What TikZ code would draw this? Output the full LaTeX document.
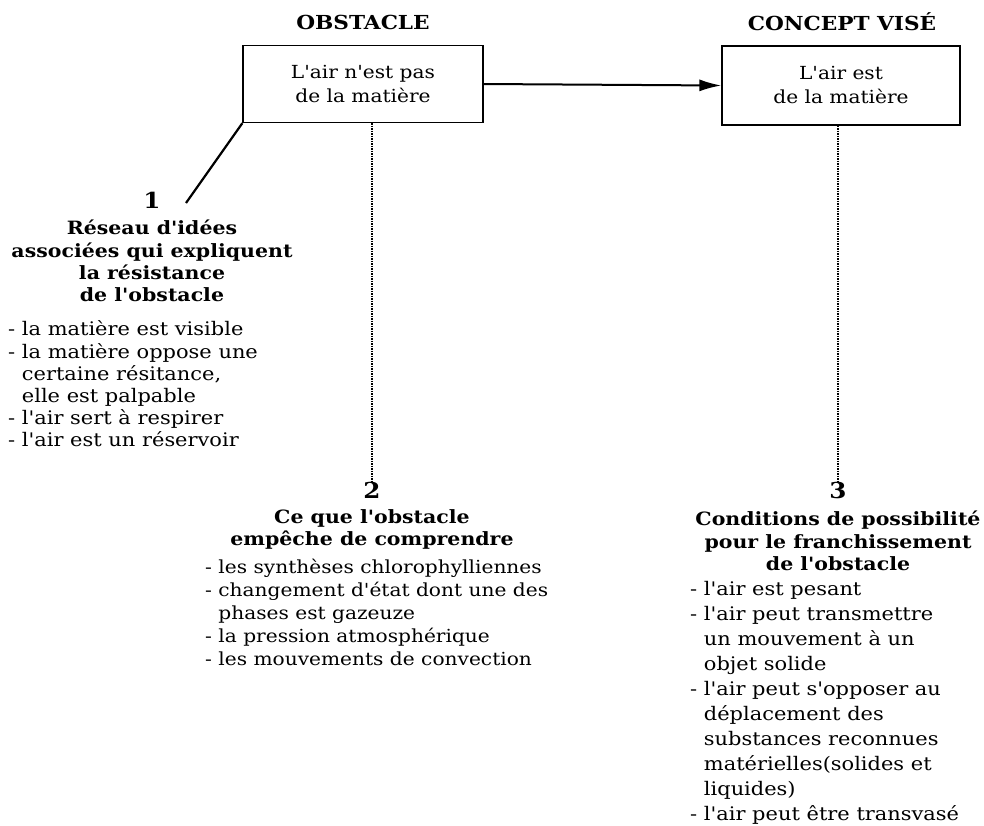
\documentclass[tikz,border=0pt]{standalone}
\usepackage{fontspec}
\setmainfont[FakeStretch=1.12, Ligatures=TeXOff]{DejaVu Serif}
\usetikzlibrary{arrows.meta}
\begin{document}
\begin{tikzpicture}[x=1pt,y=-1pt,
  box/.style={draw, line width=1.3pt, minimum width=240pt, minimum height=77pt, align=center,
    font=\fontsize{18}{24}\selectfont, inner sep=0pt},
  head/.style={font=\bfseries\fontsize{19.3}{22}\selectfont, inner sep=0pt},
  num/.style={font=\bfseries\fontsize{22}{22}\selectfont, inner sep=0pt},
  ttl/.style={font=\bfseries\fontsize{18.3}{22.3}\selectfont, align=center, inner sep=0pt},
  lst/.style={font=\fontsize{18.7}{22.2}\selectfont, align=left, inner sep=0pt, anchor=west},
  arr/.style={line width=2pt, -{Latex[length=22pt,width=12pt]}},
  solid link/.style={line width=2.2pt},
  dotlink/.style={line width=1.5pt, densely dotted}
]
\useasboundingbox (0,0) rectangle (984,825);

\node[head] (h1) at (363,22) {OBSTACLE};
\node[head] (h2) at (842,22) {CONCEPT VISÉ};
\node[box] (b1) at (363,84) {L'air n'est pas\\de la matière};
\node[box, minimum width=238pt, minimum height=79pt] (b2) at (841,85.5) {L'air est\\de la matière};
\draw[arr] (b1.east) -- (b2.west);

% section 1
\node[num] (n1) at (152,200) {1};
\coordinate (c1) at (186,203);
\draw[solid link] (b1.south west) -- (c1);
\node[ttl] (t1) at (152,261) {Réseau d'idées\\associées qui expliquent\\la résistance\\de l'obstacle};
\node[lst] (l1) at (8,384) {- la matière est visible\\- la matière oppose une\\\hphantom{- }certaine résitance,\\\hphantom{- }elle est palpable\\- l'air sert à respirer\\- l'air est un réservoir};

% section 2
\node[num] (n2) at (372,490) {2};
\draw[dotlink] (n2.north |- b1.south) -- (n2.north);
\node[ttl] (t2) at (372,529.5) {Ce que l'obstacle\\empêche de comprendre};
\node[lst, font=\fontsize{18}{22.8}\selectfont] (l2) at (205,612.5) {- les synthèses chlorophylliennes\\- changement d'état dont une des\\\hphantom{- }phases est gazeuze\\- la pression atmosphérique\\- les mouvements de convection};

% section 3
\node[num] (n3) at (838,490) {3};
\draw[dotlink] (n3.north |- b2.south) -- (n3.north);
\node[ttl] (t3) at (838,541) {Conditions de possibilité\\pour le franchissement\\de l'obstacle};
\node[lst, font=\fontsize{18.7}{25}\selectfont] (l3) at (690,702.5) {- l'air est pesant\\- l'air peut transmettre\\\hphantom{- }un mouvement à un\\\hphantom{- }objet solide\\- l'air peut s'opposer au\\\hphantom{- }déplacement des\\\hphantom{- }substances reconnues\\\hphantom{- }matérielles(solides et\\\hphantom{- }liquides)\\- l'air peut être transvasé};
\end{tikzpicture}
\end{document}
